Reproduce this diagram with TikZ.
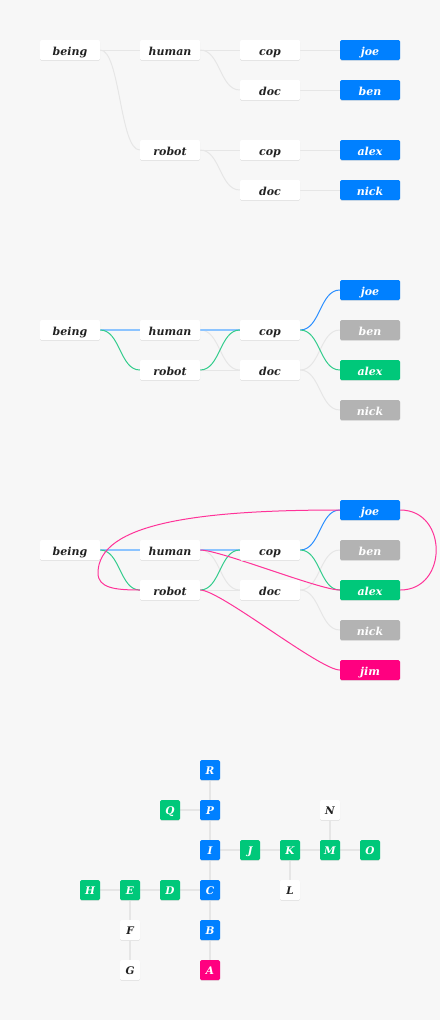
\documentclass[tikz,border=0pt]{standalone}
\usepackage{fontspec}
\setmainfont{DejaVu Serif}
\usetikzlibrary{calc}
\pgfdeclarelayer{bg}\pgfdeclarelayer{edges}
\pgfsetlayers{bg,edges,main}
\definecolor{bgc}{HTML}{F7F7F7}
\definecolor{shadowc}{HTML}{E2E2E2}
\definecolor{txt}{HTML}{222222}
\definecolor{cblue}{HTML}{0080FF}
\definecolor{cgreen}{HTML}{00C87A}
\definecolor{cgrey}{HTML}{B3B3B3}
\definecolor{cpink}{HTML}{FF0080}
\definecolor{egrey}{HTML}{E6E6E6}
\definecolor{elblue}{HTML}{8CC4FF}
\definecolor{eblue}{HTML}{2B8FFF}
\definecolor{egreen}{HTML}{33CC8C}
\definecolor{epink}{HTML}{FF3399}
\newcommand\lnk[3]{\draw[#1] (#2.east) .. controls ($(#2.east)+(20,0)$) and ($(#3.west)+(-20,0)$) .. (#3.west);}
\tikzset{
  box/.style={rounded corners=1.5pt, minimum width=60pt, minimum height=20pt, inner sep=0pt,
    text height=10pt, text depth=0pt,
    font=\fontsize{11}{12}\selectfont\bfseries\itshape,
    preaction={fill=shadowc, transform canvas={yshift=-0.8pt}}},
  wbox/.style={box, fill=white, text=txt},
  bbox/.style={box, fill=cblue, text=white},
  gbox/.style={box, fill=cgreen, text=white},
  xbox/.style={box, fill=cgrey, text=white},
  pbox/.style={box, fill=cpink, text=white},
  sq/.style={minimum width=20pt, text height=9.5pt, font=\fontsize{10.5}{12}\selectfont\bfseries\itshape},
  grey edge/.style={draw=egrey, line width=1pt},
  lblue edge/.style={draw=elblue, line width=2pt},
  blue edge/.style={draw=eblue, line width=1pt},
  green edge/.style={draw=egreen, line width=1pt},
  pink edge/.style={draw=epink, line width=1pt},
  grid edge/.style={draw=egrey, line width=1.1pt},
}
\begin{document}
\begin{tikzpicture}[x=1pt,y=-1pt]
\begin{pgfonlayer}{bg}
\fill[bgc] (0,0) rectangle (440,1020);
\end{pgfonlayer}
\useasboundingbox (0,0) rectangle (440,1020);
% ---------- section 1
\node[wbox] (a-being) at (70,50) {being};
\node[wbox] (a-human) at (170,50) {human};
\node[wbox] (a-robot) at (170,150) {robot};
\node[wbox] (a-cop1) at (270,50) {cop};
\node[wbox] (a-doc1) at (270,90) {doc};
\node[wbox] (a-cop2) at (270,150) {cop};
\node[wbox] (a-doc2) at (270,190) {doc};
\node[bbox] (a-joe) at (370,50) {joe};
\node[bbox] (a-ben) at (370,90) {ben};
\node[bbox] (a-alex) at (370,150) {alex};
\node[bbox] (a-nick) at (370,190) {nick};
\begin{pgfonlayer}{edges}
\lnk{grey edge}{a-being}{a-human}
\lnk{grey edge}{a-being}{a-robot}
\lnk{grey edge}{a-human}{a-cop1}
\lnk{grey edge}{a-human}{a-doc1}
\lnk{grey edge}{a-robot}{a-cop2}
\lnk{grey edge}{a-robot}{a-doc2}
\lnk{grey edge}{a-cop1}{a-joe}
\lnk{grey edge}{a-doc1}{a-ben}
\lnk{grey edge}{a-cop2}{a-alex}
\lnk{grey edge}{a-doc2}{a-nick}
\end{pgfonlayer}
% ---------- section 2
\node[wbox] (b-being) at (70,330) {being};
\node[wbox] (b-human) at (170,330) {human};
\node[wbox] (b-robot) at (170,370) {robot};
\node[wbox] (b-cop) at (270,330) {cop};
\node[wbox] (b-doc) at (270,370) {doc};
\node[bbox] (b-joe) at (370,290) {joe};
\node[xbox] (b-ben) at (370,330) {ben};
\node[gbox] (b-alex) at (370,370) {alex};
\node[xbox] (b-nick) at (370,410) {nick};
\begin{pgfonlayer}{edges}
\lnk{grey edge}{b-human}{b-doc}
\lnk{grey edge}{b-robot}{b-doc}
\lnk{grey edge}{b-doc}{b-ben}
\lnk{grey edge}{b-doc}{b-nick}
\lnk{lblue edge}{b-being}{b-human}
\lnk{lblue edge}{b-human}{b-cop}
\lnk{green edge}{b-being}{b-robot}
\lnk{green edge}{b-robot}{b-cop}
\lnk{blue edge}{b-cop}{b-joe}
\lnk{green edge}{b-cop}{b-alex}
\end{pgfonlayer}
% ---------- section 3
\node[wbox] (c-being) at (70,550) {being};
\node[wbox] (c-human) at (170,550) {human};
\node[wbox] (c-robot) at (170,590) {robot};
\node[wbox] (c-cop) at (270,550) {cop};
\node[wbox] (c-doc) at (270,590) {doc};
\node[bbox] (c-joe) at (370,510) {joe};
\node[xbox] (c-ben) at (370,550) {ben};
\node[gbox] (c-alex) at (370,590) {alex};
\node[xbox] (c-nick) at (370,630) {nick};
\node[pbox] (c-jim) at (370,670) {jim};
\coordinate (c-turn) at (98,573);
\begin{pgfonlayer}{edges}
\lnk{grey edge}{c-human}{c-doc}
\lnk{grey edge}{c-robot}{c-doc}
\lnk{grey edge}{c-doc}{c-ben}
\lnk{grey edge}{c-doc}{c-nick}
\lnk{lblue edge}{c-being}{c-human}
\lnk{lblue edge}{c-human}{c-cop}
\lnk{green edge}{c-being}{c-robot}
\lnk{green edge}{c-robot}{c-cop}
\lnk{blue edge}{c-cop}{c-joe}
\lnk{green edge}{c-cop}{c-alex}
\lnk{pink edge}{c-human}{c-alex}
\lnk{pink edge}{c-robot}{c-jim}
\draw[pink edge] (c-joe.east) .. controls ($(c-joe.east)+(48,0)$) and ($(c-alex.east)+(48,0)$) .. (c-alex.east);
\draw[pink edge] (c-joe.west) .. controls ($(c-joe.west)+(-140,0)$) and ($(c-turn)+(0,-50)$) .. (c-turn)
  .. controls ($(c-turn)+(0,15)$) and ($(c-robot.west)+(-25,0)$) .. (c-robot.west);
\end{pgfonlayer}
% ---------- section 4
\node[bbox,sq] (R) at (210,770) {R};
\node[gbox,sq] (Q) at (170,810) {Q};
\node[bbox,sq] (P) at (210,810) {P};
\node[wbox,sq] (N) at (330,810) {N};
\node[bbox,sq] (I) at (210,850) {I};
\node[gbox,sq] (J) at (250,850) {J};
\node[gbox,sq] (K) at (290,850) {K};
\node[gbox,sq] (M) at (330,850) {M};
\node[gbox,sq] (O) at (370,850) {O};
\node[gbox,sq] (H) at (90,890) {H};
\node[gbox,sq] (E) at (130,890) {E};
\node[gbox,sq] (D) at (170,890) {D};
\node[bbox,sq] (C) at (210,890) {C};
\node[wbox,sq] (L) at (290,890) {L};
\node[wbox,sq] (F) at (130,930) {F};
\node[bbox,sq] (B) at (210,930) {B};
\node[wbox,sq] (G) at (130,970) {G};
\node[pbox,sq] (A) at (210,970) {A};
\begin{pgfonlayer}{edges}
\foreach \u/\v in {R/P,Q/P,P/I,I/J,J/K,K/M,M/O,N/M,K/L,I/C,C/D,D/E,E/H,E/F,F/G,C/B,B/A}
  \draw[grid edge] (\u.center) -- (\v.center);
\end{pgfonlayer}
\end{tikzpicture}
\end{document}
